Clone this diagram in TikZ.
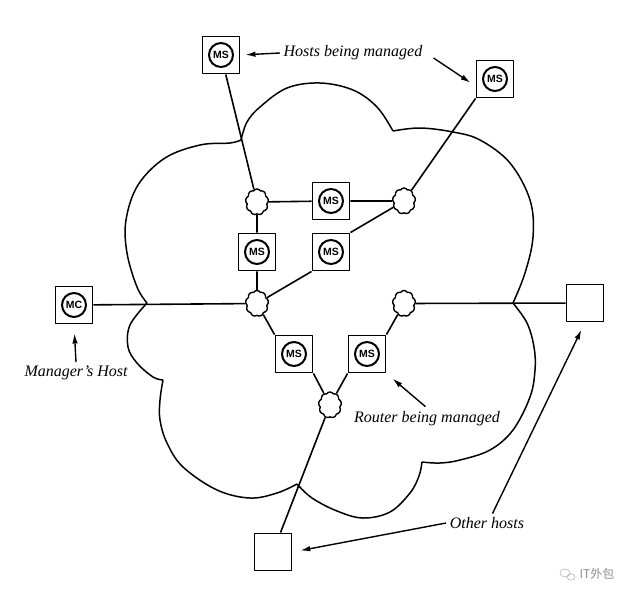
\documentclass[tikz,border=0pt]{standalone}
\usepackage{fontspec}
\setmainfont{Liberation Serif}
\newfontfamily\msfont{Liberation Sans}
\newfontfamily\cjkfont{Noto Sans CJK SC}
\usetikzlibrary{shapes.symbols,arrows.meta}
\begin{document}
\begin{tikzpicture}[x=1pt,y=-1pt, line width=1.6pt, line join=round,
  box/.style={draw, fill=white, line width=1.9pt, minimum size=37pt, inner sep=0pt},
  ms/.style={box, path picture={\draw[line width=2pt] (path picture bounding box.center) circle (12pt);},
     font=\msfont\bfseries\fontsize{10.5}{10.5}\selectfont},
  router/.style={cloud, cloud puffs=9, cloud puff arc=115, aspect=0.9, draw, fill=white,
     line width=1.4pt, minimum width=23pt, minimum height=26pt, inner sep=0pt},
  lbl/.style={font=\itshape\fontsize{16}{16}\selectfont, inner sep=3pt},
  arr/.style={-{Latex[length=10pt,width=5.5pt]}, line width=1.4pt}]
\useasboundingbox (0,0) rectangle (640,598);
% big cloud
\draw[line width=1.5pt]
  plot[smooth, tension=0.6] coordinates {(147,303) (137,287) (127,253) (126,220) (138,185) (165,158) (200,145) (230,143) (241,140)}
  plot[smooth, tension=0.6] coordinates {(241,140) (247,122) (260,107) (287,88) (320,83) (353,90) (377,107) (393,131)}
  plot[smooth, tension=0.6] coordinates {(393,131) (420,128) (453,132) (480,140) (510,163) (530,200) (533,237) (525,273) (513,303)}
  plot[smooth, tension=0.6] coordinates {(513,303) (527,323) (534,347) (535,370) (530,397) (513,430) (490,450) (460,460) (440,463) (422,462)}
  plot[smooth, tension=0.6] coordinates {(422,462) (419,476) (410,493) (390,512) (363,518) (337,511) (312,498) (297,484)}
  plot[smooth, tension=0.6] coordinates {(297,484) (277,493) (250,498) (217,490) (183,467) (167,443) (160,420) (160,400) (163,380)}
  plot[smooth, tension=0.6] coordinates {(163,380) (153,377) (137,363) (128,347) (130,325) (147,303)};
% routers
\node[router] (R1) at (257,202) {};
\node[router] (R2) at (404,201) {};
\node[router] (R3) at (257,303.5) {};
\node[router] (R4) at (404,303.5) {};
\node[router] (R5) at (330,405) {};
% hosts
\node[ms] (msTL) at (221,55) {MS};
\node[ms] (msTR) at (495,79) {MS};
\node[ms] (msA) at (331,201) {MS};
\node[ms] (msB) at (257,252) {MS};
\node[ms] (msC) at (331,252) {MS};
\node[ms] (msD) at (294,354) {MS};
\node[ms] (msE) at (367,354) {MS};
\node[ms] (mc) at (74,305) {MC};
\node[box] (hostR) at (585,303) {};
\node[box] (hostB) at (273,552) {};
% connectors
\draw (msTL) -- (R1);
\draw (msTR.south west) -- (R2);
\draw (R1) -- (msA) -- (R2);
\draw (R1) -- (msB) -- (R3);
\draw (R3) -- (msC.south west);
\draw (msC.north east) -- (R2);
\draw (mc) -- (R3);
\draw (R4) -- (hostR);
\draw (R3) -- (msD.north west);
\draw (msD.south east) -- (R5);
\draw (R4) -- (msE.north east);
\draw (msE.south west) -- (R5);
\draw (R5) -- (hostB);
% labels
\node[lbl] (tHosts) at (353,53) {Hosts being managed};
\node[lbl] (tMgr) at (76,373) {Manager’s Host};
\node[lbl] (tRouter) at (427,419) {Router being managed};
\node[lbl] (tOther) at (487,523) {Other hosts};
\draw[arr, shorten >=5pt] (tHosts.west) -- (msTL.east);
\draw[arr, shorten <=9pt, shorten >=6pt] (tHosts.east) -- (msTR.200);
\draw[arr, shorten >=9pt] (tMgr.north) -- (mc.south);
\draw[arr, shorten <=2pt, shorten >=8pt] (tRouter.north) -- (msE.south east);
\draw[arr, shorten >=8pt] (tOther.west) -- (hostB.east);
\draw[arr, shorten >=8pt] (tOther.60) -- (hostR.south);
% watermark
\node[font=\cjkfont\fontsize{12}{12}\selectfont, text=black!45, inner sep=0pt] (wm) at (597,574) {IT外包};
\draw[black!30, line width=0.6pt] (565,573) ellipse (5pt and 4pt) (571,577) ellipse (4pt and 3.2pt);
\end{tikzpicture}
\end{document}
